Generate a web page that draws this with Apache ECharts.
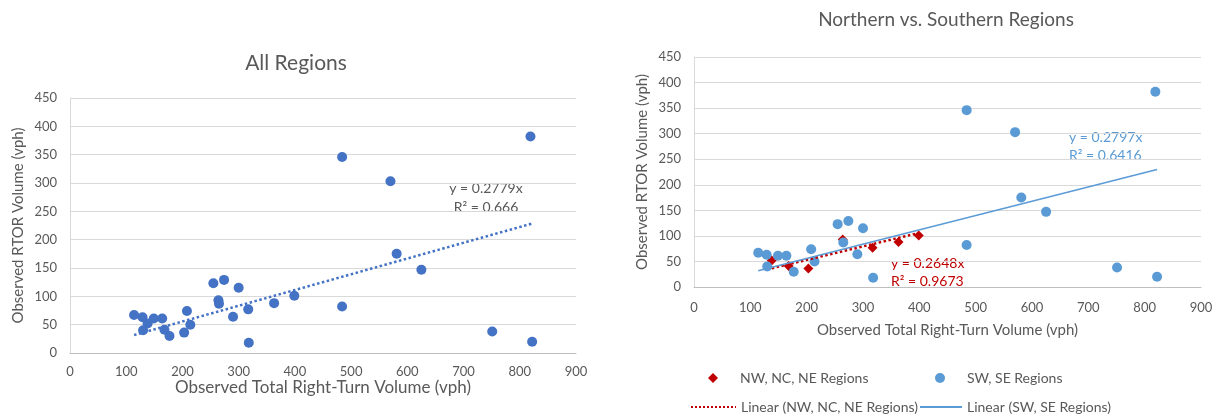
<!DOCTYPE html>
<html>
<head>
<meta charset="utf-8">
<title>Observed RTOR Volume</title>
<script src="https://cdn.jsdelivr.net/npm/echarts@6/dist/echarts.min.js"></script>
<style>
  html, body { margin: 0; padding: 0; background: #fff; }
  #chart { width: 1221px; height: 416px; }
</style>
</head>
<body>
<div id="chart"></div>
<script>
// NW, NC, NE regions: total right-turn volume / RTOR volume (vph)
const northX = [138, 168, 203, 264, 317, 363, 399];
const northY = [52, 41, 36, 93, 77, 88, 101];
// SW, SE regions
const southX = [114, 129, 130, 149, 164, 177, 208, 214, 255, 274, 265, 300, 290, 318, 484, 484, 570, 581, 625, 751, 819, 822];
const southY = [67, 63, 40, 61, 61, 30, 74, 50, 123, 129, 87, 115, 64, 18, 346, 82, 303, 175, 147, 38, 382, 20];

// trendlines through the origin, as printed on the chart
const slopeAll = 0.2779, r2All = "0.666";
const slopeNorth = 0.2648, r2North = "0.9673";
const slopeSouth = 0.2797, r2South = "0.6416";

// axis ticks
const xTicks = [0, 900, 100];
const yTicks = [0, 450, 50];

const FONT = "Lato";
const GREY = "#595959";

const zip = (xs, ys) => xs.map((x, i) => [x, ys[i]]);
const trend = (xs, k) => {
  const lo = Math.min(...xs), hi = Math.max(...xs);
  return [[lo, lo * k], [hi, hi * k]];
};

const allX = northX.concat(southX);
const allY = northY.concat(southY);

const xAxisBase = (gridIndex, gap, margin, nameSize) => ({
  gridIndex,
  type: "value",
  min: xTicks[0], max: xTicks[1], interval: xTicks[2],
  name: "Observed Total Right-Turn Volume (vph)",
  nameLocation: "middle",
  nameGap: gap,
  nameMoveOverlap: false,
  nameTextStyle: { color: GREY, fontSize: nameSize, fontFamily: FONT },
  axisLine: { show: true, lineStyle: { color: "#BFBFBF", width: 1 } },
  axisTick: { show: false },
  axisLabel: { color: GREY, fontSize: 13, fontFamily: FONT, margin: margin },
  splitLine: { show: false },
});
const yAxisBase = (gridIndex) => ({
  gridIndex,
  type: "value",
  min: yTicks[0], max: yTicks[1], interval: yTicks[2],
  name: "Observed RTOR Volume (vph)",
  nameLocation: "middle",
  nameGap: 44,
  nameMoveOverlap: false,
  nameTextStyle: { color: GREY, fontSize: 15, fontFamily: FONT },
  axisLine: { show: true, lineStyle: { color: "#D9D9D9", width: 1 } },
  axisTick: { show: false },
  axisLabel: { color: GREY, fontSize: 13, fontFamily: FONT, margin: 13 },
  splitLine: { show: true, lineStyle: { color: "#D9D9D9", width: 1 } },
});

const legendBase = (left, top, name, w, pad) => ({
  left, top,
  padding: 0,
  itemWidth: w,
  itemHeight: 10,
  data: [name],
  textStyle: { color: GREY, fontSize: 14, fontFamily: FONT, padding: [0, 0, 0, pad] },
});

const label = (x, y, text, color, align) => ({
  type: "text",
  x, y,
  style: { text, fill: color, fontSize: 14, fontFamily: FONT, align, verticalAlign: "middle" },
});

const chart = echarts.init(document.getElementById("chart"));
chart.setOption({
  animation: false,
  backgroundColor: "#fff",
  textStyle: { fontFamily: FONT },
  title: [
    { text: "All Regions", left: 296, top: 63, textAlign: "center", textVerticalAlign: "middle", padding: 0,
      textStyle: { color: GREY, fontSize: 21, fontWeight: "normal", fontFamily: FONT } },
    { text: "Northern vs. Southern Regions", left: 946, top: 20, textAlign: "center", textVerticalAlign: "middle", padding: 0,
      textStyle: { color: GREY, fontSize: 19, fontWeight: "normal", fontFamily: FONT } },
  ],
  grid: [
    { left: 70, right: 645, top: 98, bottom: 63, containLabel: false, outerBoundsMode: "none" },
    { left: 694, right: 20, top: 57, bottom: 129, containLabel: false, outerBoundsMode: "none" },
  ],
  xAxis: [xAxisBase(0, 26, 12, 17), xAxisBase(1, 36, 14, 15)],
  yAxis: [yAxisBase(0), yAxisBase(1)],
  legend: [
    Object.assign(legendBase(708, 371, "NW, NC, NE Regions", 10, 17), { icon: "diamond" }),
    Object.assign(legendBase(935, 371, "SW, SE Regions", 10, 17), { icon: "circle" }),
    Object.assign(legendBase(690, 400, "Linear (NW, NC, NE Regions)", 45, 0),
      { itemStyle: { color: "rgba(0,0,0,0)", opacity: 0, borderWidth: 0 } }),
    Object.assign(legendBase(919, 400, "Linear (SW, SE Regions)", 42, 0),
      { itemStyle: { color: "rgba(0,0,0,0)", opacity: 0, borderWidth: 0 } }),
  ],
  series: [
    {
      name: "All Regions", type: "scatter", xAxisIndex: 0, yAxisIndex: 0,
      data: zip(allX, allY), symbol: "circle", symbolSize: 10,
      itemStyle: { color: "#4472C4", opacity: 1 },
    },
    {
      name: "Linear (All Regions)", type: "line", xAxisIndex: 0, yAxisIndex: 0,
      data: trend(allX, slopeAll), symbol: "none",
      lineStyle: { color: "#4472C4", width: 2.5, type: "dotted" },
    },
    {
      name: "NW, NC, NE Regions", type: "scatter", xAxisIndex: 1, yAxisIndex: 1,
      data: zip(northX, northY), symbol: "diamond", symbolSize: 10,
      itemStyle: { color: "#C00000", opacity: 1 },
    },
    {
      name: "SW, SE Regions", type: "scatter", xAxisIndex: 1, yAxisIndex: 1,
      data: zip(southX, southY), symbol: "circle", symbolSize: 10,
      itemStyle: { color: "#5B9BD5", opacity: 1 },
    },
    {
      name: "Linear (NW, NC, NE Regions)", type: "line", xAxisIndex: 1, yAxisIndex: 1,
      data: trend(northX, slopeNorth), symbol: "none",
      itemStyle: { color: "#C00000" },
      lineStyle: { color: "#C00000", width: 2.5, type: "dotted" },
    },
    {
      name: "Linear (SW, SE Regions)", type: "line", xAxisIndex: 1, yAxisIndex: 1,
      data: trend(southX, slopeSouth), symbol: "none",
      itemStyle: { color: "#5B9BD5" },
      lineStyle: { color: "#5B9BD5", width: 1.5, type: "solid" },
    },
  ],
  graphic: [
    label(486, 188, "y = " + slopeAll + "x", GREY, "center"),
    label(486, 207, "R² = " + r2All, GREY, "center"),
    label(1069, 137, "y = " + slopeSouth + "x", "#5B9BD5", "left"),
    label(1069, 155, "R² = " + r2South, "#5B9BD5", "left"),
    label(891, 263, "y = " + slopeNorth + "x", "#C00000", "left"),
    label(891, 281, "R² = " + r2North, "#C00000", "left"),
  ],
});
</script>
</body>
</html>
